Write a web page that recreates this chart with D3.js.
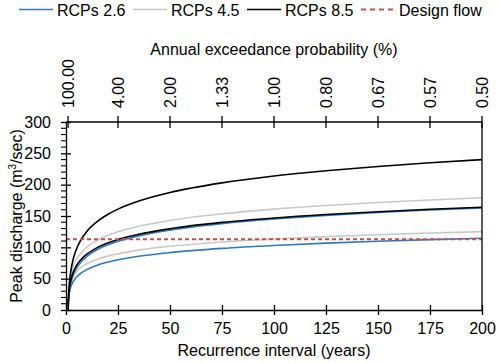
<!DOCTYPE html>
<html>
<head>
<meta charset="utf-8">
<script src="https://cdn.jsdelivr.net/npm/d3@7"></script>
<style>
  html, body { margin: 0; padding: 0; background: #fff; }
  svg { display: block; font-family: Arial, "Liberation Sans", sans-serif; }
</style>
</head>
<body>
<svg id="chart" width="498" height="363"></svg>
<script>
// ---- Data ----
const returnPeriods = [1.05, 1.1, 1.25, 1.5, 2, 3, 5, 7, 10, 15, 20, 25, 35, 50, 75, 100, 125, 150, 175, 200];
const rcp26Low  = [9.3, 13.3, 19.8, 26.1, 33.6, 42.4, 52.2, 58.3, 64.5, 71.5, 76.3, 80.1, 85.7, 91.6, 98.3, 103.0, 106.7, 109.7, 112.3, 114.5];
const rcp26High = [0, 5.7, 15.9, 25.6, 37.3, 51.0, 66.2, 75.7, 85.4, 96.2, 103.7, 109.6, 118.3, 127.5, 137.9, 145.3, 151.0, 155.7, 159.6, 163.0];
const rcp45Low  = [17.4, 21.4, 28.1, 34.5, 42.3, 51.3, 61.3, 67.5, 73.9, 81.0, 86.0, 89.8, 95.6, 101.7, 108.5, 113.4, 117.1, 120.2, 122.8, 125.1];
const rcp45High = [13.1, 19.2, 29.6, 39.5, 51.4, 65.3, 80.7, 90.3, 100.2, 111.2, 118.8, 124.7, 133.6, 143.0, 153.5, 161.0, 166.8, 171.6, 175.6, 179.1];
const rcp85Mid  = [6.3, 12.2, 22.0, 31.4, 42.7, 55.9, 70.6, 79.7, 89.1, 99.5, 106.8, 112.4, 120.8, 129.7, 139.8, 146.9, 152.4, 156.9, 160.7, 164.0];
const rcp85High = [0, 7.6, 22.6, 37.0, 54.3, 74.5, 97.0, 110.9, 125.3, 141.2, 152.4, 161.0, 173.9, 187.5, 202.9, 213.8, 222.2, 229.1, 235.0, 240.0];
const designFlow = 113;

const xTicks = [0, 25, 50, 75, 100, 125, 150, 175, 200];
const yTicks = [0, 50, 100, 150, 200, 250, 300];
const aepPositions = [1, 25, 50, 75, 100, 125, 150, 175, 200];
const aepLabels = ["100.00", "4.00", "2.00", "1.33", "1.00", "0.80", "0.67", "0.57", "0.50"];

const legendNames = ["RCPs 2.6", "RCPs 4.5", "RCPs 8.5", "Design flow"];
const colBlue = "#2F78C4", colGray = "#C8C8C8", colBlack = "#000000", colRed = "#C0504D";

(function () {
// ---- Layout ----
const svg = d3.select("#chart");
const mLeft = 66, mRight = 482, mTop = 122, mBottom = 310;
const x = d3.scaleLinear().domain([0, 200]).range([mLeft, mRight]);
const y = d3.scaleLinear().domain([0, 300]).range([mBottom, mTop]);
const fontSize = 16;

svg.append("defs").append("clipPath").attr("id", "plotclip")
  .append("rect").attr("x", mLeft).attr("y", mTop - 1).attr("width", mRight - mLeft).attr("height", mBottom - mTop + 1);

// ---- Series ----
const line = d3.line().x((d, i) => x(returnPeriods[i])).y(d => y(d)).curve(d3.curveMonotoneX);
const g = svg.append("g").attr("clip-path", "url(#plotclip)");
const series = [
  { v: rcp45Low, c: colGray },
  { v: rcp45High, c: colGray },
  { v: rcp26Low, c: colBlue },
  { v: rcp26High, c: colBlue },
  { v: rcp85Mid, c: colBlack },
  { v: rcp85High, c: colBlack }
];
series.forEach(s => {
  g.append("path").datum(s.v).attr("d", line)
    .attr("fill", "none").attr("stroke", s.c).attr("stroke-width", 1.6);
});
g.append("line")
  .attr("x1", x(0)).attr("x2", x(200)).attr("y1", y(designFlow)).attr("y2", y(designFlow))
  .attr("stroke", colRed).attr("stroke-width", 2).attr("stroke-dasharray", "4,3");

// ---- Frame (right border) ----
svg.append("line").attr("x1", mRight).attr("x2", mRight).attr("y1", mTop).attr("y2", mBottom)
  .attr("stroke", "#000").attr("stroke-width", 1.3);

// ---- Bottom axis ----
const xAxisG = svg.append("g").attr("transform", `translate(0,${mBottom})`)
  .call(d3.axisBottom(x).tickValues(xTicks).tickSize(0).tickPadding(13));
xAxisG.select(".domain").attr("stroke", "#000").attr("stroke-width", 1.3);
xAxisG.selectAll(".tick text").attr("font-size", fontSize).attr("fill", "#000");
xAxisG.attr("font-family", null).attr("font-size", null);
xAxisG.selectAll(".tick").append("line").attr("y1", -5).attr("y2", 5).attr("stroke", "#000").attr("stroke-width", 1.3);

// ---- Left axis ----
const yAxisG = svg.append("g").attr("transform", `translate(${mLeft},0)`)
  .call(d3.axisLeft(y).tickValues(yTicks).tickSize(0).tickPadding(15));
yAxisG.select(".domain").attr("stroke", "#000").attr("stroke-width", 1.3);
yAxisG.selectAll(".tick text").attr("font-size", fontSize).attr("fill", "#000");
yAxisG.attr("font-family", null).attr("font-size", null);
yAxisG.selectAll(".tick").append("line").attr("x1", -5).attr("x2", 5).attr("stroke", "#000").attr("stroke-width", 1.3);
const minorTicks = d3.range(0, 301, 10).filter(v => v % 50 !== 0);
yAxisG.selectAll(".minor").data(minorTicks).enter().append("line")
  .attr("x1", -5).attr("x2", 0).attr("y1", d => y(d)).attr("y2", d => y(d))
  .attr("stroke", "#000").attr("stroke-width", 1.1);

// ---- Top axis (AEP) ----
const xTop = svg.append("g");
xTop.append("line").attr("x1", mLeft).attr("x2", mRight).attr("y1", mTop).attr("y2", mTop)
  .attr("stroke", "#000").attr("stroke-width", 1.3);
aepPositions.forEach((p, i) => {
  xTop.append("line").attr("x1", x(p)).attr("x2", x(p)).attr("y1", mTop - 6).attr("y2", mTop + 6)
    .attr("stroke", "#000").attr("stroke-width", 1.3);
  xTop.append("text")
    .attr("transform", `translate(${x(p) + 5.5},${mTop - 14}) rotate(-90)`)
    .attr("text-anchor", "start").attr("font-size", fontSize).attr("fill", "#000")
    .text(aepLabels[i]);
});

// ---- Axis titles ----
svg.append("text").attr("x", (mLeft + mRight) / 2).attr("y", 55).attr("text-anchor", "middle")
  .attr("font-size", fontSize).attr("fill", "#000").text("Annual exceedance probability (%)");
svg.append("text").attr("x", (mLeft + mRight) / 2).attr("y", 356).attr("text-anchor", "middle")
  .attr("font-size", fontSize).attr("fill", "#000").text("Recurrence interval (years)");
const yt = svg.append("text").attr("transform", `translate(22,${(mTop + mBottom) / 2}) rotate(-90)`)
  .attr("text-anchor", "middle").attr("font-size", fontSize).attr("fill", "#000");
yt.append("tspan").text("Peak discharge (m");
yt.append("tspan").attr("font-size", 10).attr("dy", -6).text("3");
yt.append("tspan").attr("dy", 6).text("/sec)");

// ---- Legend ----
const legendItems = [
  { name: legendNames[0], c: colBlue, x0: 19, dash: null },
  { name: legendNames[1], c: colGray, x0: 133, dash: null },
  { name: legendNames[2], c: colBlack, x0: 247, dash: null },
  { name: legendNames[3], c: colRed, x0: 361, dash: "5,4" }
];
legendItems.forEach(it => {
  svg.append("line").attr("x1", it.x0).attr("x2", it.x0 + 34).attr("y1", 9.5).attr("y2", 9.5)
    .attr("stroke", it.c).attr("stroke-width", it.dash ? 1.8 : 1.6)
    .attr("stroke-dasharray", it.dash);
  svg.append("text").attr("x", it.x0 + 38).attr("y", 15.5).attr("font-size", fontSize)
    .attr("fill", "#000").text(it.name);
});
})();
</script>
</body>
</html>
